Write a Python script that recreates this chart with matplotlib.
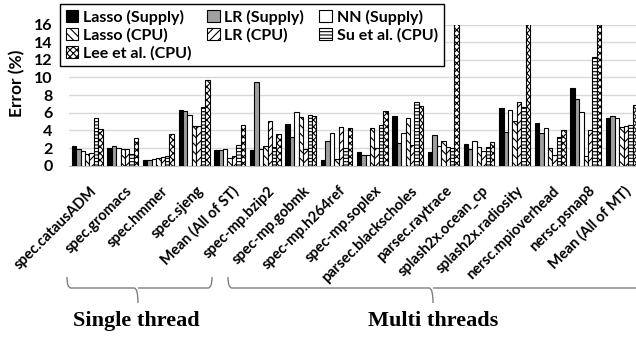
import numpy as np
import matplotlib.pyplot as plt
import matplotlib.transforms as mtransforms
from matplotlib.patches import Patch, PathPatch
from matplotlib.path import Path

categories = ['spec.catausADM', 'spec.gromacs', 'spec.hmmer', 'spec.sjeng',
              'Mean (All of ST)', 'spec-mp.bzip2', 'spec-mp.gobmk',
              'spec-mp.h264ref', 'spec-mp.soplex', 'parsec.blackscholes',
              'parsec.raytrace', 'splash2x.ocean_cp', 'splash2x.radiosity',
              'nersc.mpioverhead', 'nersc.psnap8', 'Mean (All of MT)']

lasso_supply = [2.2, 2.0, 0.7, 6.3, 1.8, 1.8, 4.7, 0.7, 1.6, 5.6, 1.6, 2.45, 6.5, 4.85, 8.75, 5.4]
lr_supply = [1.9, 2.2, 0.7, 6.2, 1.8, 9.5, 3.2, 2.75, 1.2, 2.55, 3.45, 1.85, 3.85, 3.65, 7.55, 5.6]
nn_supply = [1.7, 2.0, 0.75, 5.8, 1.85, 1.9, 6.1, 3.75, 1.25, 3.7, 2.2, 2.8, 6.35, 4.3, 6.05, 5.45]
lasso_cpu = [1.3, 1.85, 0.9, 4.5, 0.9, 2.25, 5.5, 0.8, 4.3, 5.4, 2.8, 2.1, 5.1, 2.05, 1.1, 4.4]
lr_cpu = [1.4, 1.9, 1.0, 4.5, 1.1, 5.1, 1.85, 4.4, 2.05, 2.35, 2.1, 1.7, 7.2, 1.25, 4.1, 4.5]
su_cpu = [5.4, 1.3, 1.1, 6.7, 2.4, 2.15, 5.8, 2.0, 4.65, 7.2, 2.0, 2.15, 6.7, 3.2, 12.3, 4.65]
lee_cpu = [4.2, 3.1, 3.6, 9.7, 4.6, 3.55, 5.65, 4.3, 6.2, 6.8, 20, 2.65, 20, 4.0, 20, 6.9]

series = [
    ('Lasso (Supply)', lasso_supply, 'black', ''),
    ('LR (Supply)', lr_supply, '#a0a0a0', ''),
    ('NN (Supply)', nn_supply, 'white', ''),
    ('Lasso (CPU)', lasso_cpu, 'white', '\\\\\\\\'),
    ('LR (CPU)', lr_cpu, 'white', '////'),
    ('Su et al. (CPU)', su_cpu, 'white', '-----'),
    ('Lee et al. (CPU)', lee_cpu, 'white', 'xxxxx'),
]

plt.rcParams['hatch.linewidth'] = 0.8
W, H = 636, 337
fig = plt.figure(figsize=(6.36, 3.37), dpi=100)
ax = fig.add_axes([69.4 / W, 1 - 165.7 / H, (639.3 - 69.4) / W, (165.7 - 24.5) / H])

x = np.arange(len(categories))
bw = 0.124
handles = {}
for i, (name, vals, color, hatch) in enumerate(series):
    ax.bar(x + (i - 3) * bw, vals, bw, color=color, edgecolor='black',
           linewidth=0.8, hatch=hatch, zorder=3)
    handles[name] = Patch(facecolor=color, edgecolor='black', hatch=hatch, linewidth=0.8)

ax.set_xlim(-0.5, 15.5)
ax.set_ylim(0, 16)
ax.set_yticks(range(0, 17, 2))
ax.grid(axis='y', color='#d9d9d9', linewidth=1, zorder=0)
for s in ['top', 'right', 'left']:
    ax.spines[s].set_visible(False)
ax.spines['bottom'].set_color('#bfbfbf')
ax.tick_params(length=0)
ax.tick_params(axis='y', pad=12, labelsize=11.5)
ax.set_xticks(x)
ax.set_xticklabels(categories, rotation=45, ha='right', rotation_mode='anchor',
                   fontsize=10.5, fontweight='bold', family='Lato')
ax.tick_params(axis='x', pad=13)
shift = mtransforms.ScaledTranslation(2 / 100, 0, fig.dpi_scale_trans)
for t in ax.get_xticklabels():
    t.set_transform(t.get_transform() + shift)
for t in ax.get_yticklabels():
    t.set_fontweight('bold')
    t.set_family('Lato')

fig.text(17 / W, 1 - 83 / H, 'Error (%)', rotation=90, ha='center', va='center',
         fontsize=12.5, fontweight='bold', family='Lato')

order = ['Lasso (Supply)', 'Lasso (CPU)', 'Lee et al. (CPU)', 'LR (Supply)',
         'LR (CPU)', 'NN (Supply)', 'Su et al. (CPU)']
leg = fig.legend([handles[n] for n in order], order, ncol=3, loc='upper left',
                 bbox_to_anchor=(60 / W, 1 - 4 / H), frameon=True, fancybox=False,
                 edgecolor='black', framealpha=1,
                 prop={'family': 'Lato', 'weight': 'bold', 'size': 11.5},
                 handlelength=0.8, handleheight=0.8, handletextpad=0.3,
                 columnspacing=0.95, labelspacing=0.2, borderpad=0.35,
                 borderaxespad=0)
leg.get_frame().set_linewidth(1)


def brace(x0, x1, xt, ytop, ymid, ytip):
    r = 4
    verts = [(x0, ytop), (x0, ymid), (x0 + r, ymid),
             (xt - r, ymid), (xt, ymid), (xt, ytip),
             (xt, ymid), (xt + r, ymid),
             (x1 - r, ymid), (x1, ymid), (x1, ytop)]
    codes = [Path.MOVETO, Path.CURVE3, Path.CURVE3,
             Path.LINETO, Path.CURVE3, Path.CURVE3,
             Path.MOVETO, Path.LINETO,
             Path.LINETO, Path.CURVE3, Path.CURVE3]
    verts = [(a / W, 1 - b / H) for a, b in verts]
    fig.add_artist(PathPatch(Path(verts, codes), transform=fig.transFigure,
                             facecolor='none', edgecolor='#7f7f7f', linewidth=1))


brace(67, 212, 138, 277, 288, 303)
brace(228, 645, 433, 277, 288, 303)

fig.text(136 / W, 1 - 321 / H, 'Single thread', ha='center', va='center',
         fontsize=16, fontweight='bold', family='Liberation Serif')
fig.text(433 / W, 1 - 321 / H, 'Multi threads', ha='center', va='center',
         fontsize=16, fontweight='bold', family='Liberation Serif')

fig.savefig('out.png', dpi=100)
